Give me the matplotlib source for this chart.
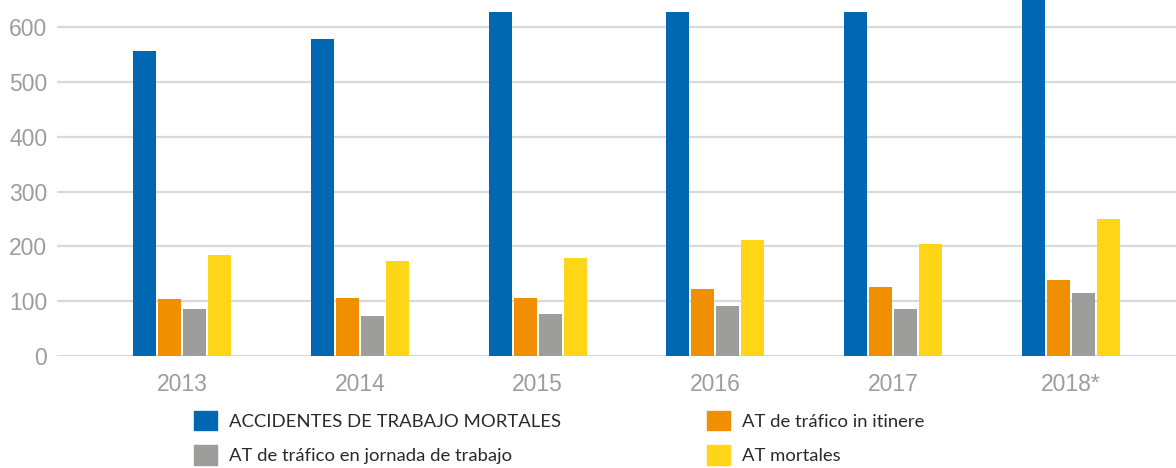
import numpy as np
import matplotlib.pyplot as plt
from matplotlib.patches import Patch

years = ['2013', '2014', '2015', '2016', '2017', '2018*']
mortales_trabajo = [557, 578, 628, 628, 628, 652]
itinere = [104, 105, 105, 123, 125, 139]
jornada = [86, 73, 77, 92, 85, 115]
at_mortales = [184, 174, 178, 211, 205, 250]

labels = ['ACCIDENTES DE TRABAJO MORTALES', 'AT de tráfico in itinere',
          'AT de tráfico en jornada de trabajo', 'AT mortales']
colors = ['#0068B3', '#F08F00', '#9D9D9C', '#FFD517']
series = [mortales_trabajo, itinere, jornada, at_mortales]

fig = plt.figure(figsize=(11.76, 4.68), dpi=100)
ax = fig.add_axes([57 / 1176, 112 / 468, 1119 / 1176, 356 / 468])

x = np.arange(len(years))
step = 25 / 177.8
width = 23 / 177.8
for i, (vals, col) in enumerate(zip(series, colors)):
    ax.bar(x + (i - 1.5) * step, vals, width, color=col, zorder=3)

ax.set_xlim(-125 / 177.8, 994 / 177.8)
ax.set_ylim(0, 649.6)
ax.set_yticks(range(0, 601, 100))
ax.set_xticks(x)
ax.set_xticklabels(years)
ax.grid(axis='y', color='#d9d9d9', linewidth=1.6, zorder=0)
for s in ax.spines.values():
    s.set_visible(False)
ax.tick_params(length=0, colors='#9d9d9d', labelsize=16.5)
ax.tick_params(axis='y', pad=7)
ax.tick_params(axis='x', pad=12)
for lab in ax.get_xticklabels() + ax.get_yticklabels():
    lab.set_fontfamily(['Liberation Sans', 'DejaVu Sans'])

handles = [Patch(color=colors[k]) for k in (0, 2, 1, 3)]
names = [labels[k] for k in (0, 2, 1, 3)]
fs = 13.3
u = fs * 1.389  # pixels per font-size unit
leg = fig.legend(handles, names, ncol=2, loc='upper left',
                 bbox_to_anchor=(194 / 1176, 1 - 411 / 468), frameon=False,
                 borderpad=0, borderaxespad=0,
                 handlelength=23 / u, handleheight=23 / u,
                 handletextpad=12 / u,
                 columnspacing=146 / u, labelspacing=0.8,
                 prop={'family': ['Lato', 'DejaVu Sans'], 'size': fs})
for t in leg.get_texts():
    t.set_color('#2a2a2a')

fig.savefig('out.png', dpi=100)
